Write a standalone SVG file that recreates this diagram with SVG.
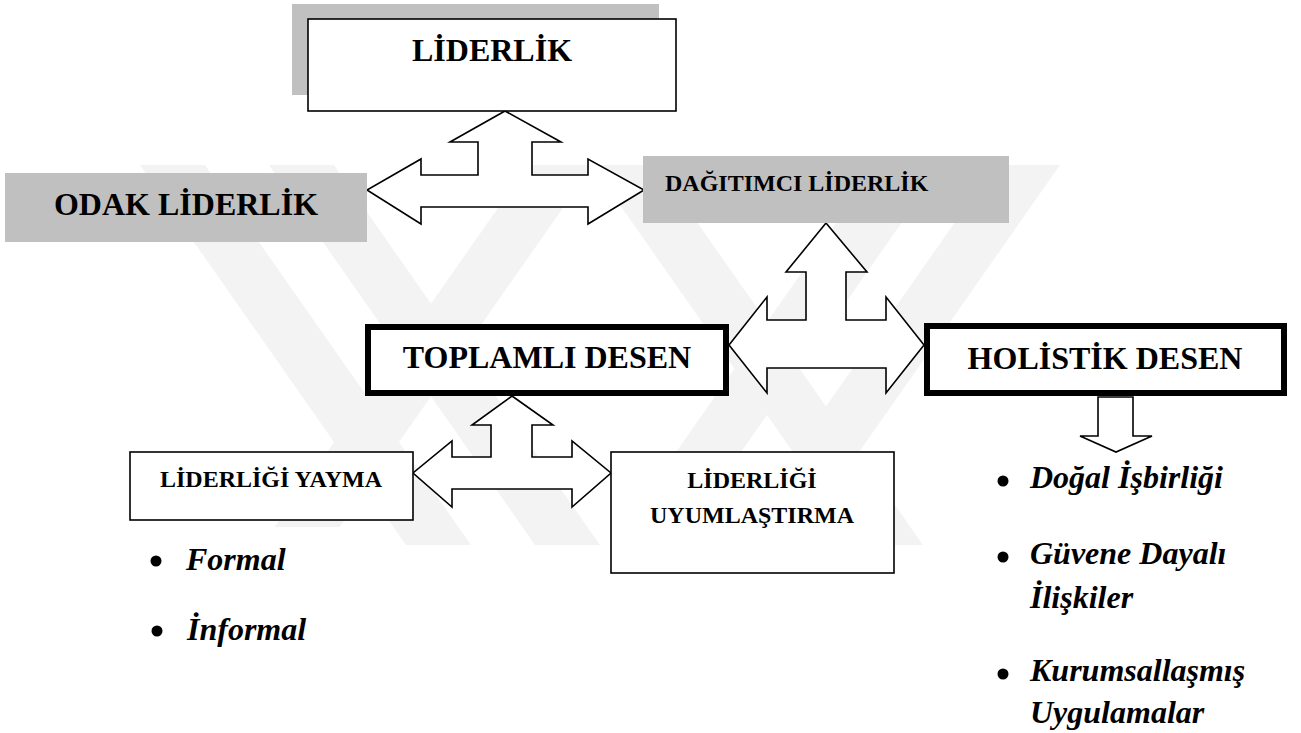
<svg xmlns="http://www.w3.org/2000/svg" width="1301" height="733" viewBox="0 0 1301 733">
<style>
.wm{fill:#f3f3f3}
.bx{fill:#ffffff;stroke:#000;stroke-width:1.6}
.thick{fill:#ffffff;stroke:#000;stroke-width:6}
.gray{fill:#c0c0c0}
.arr{fill:#ffffff;stroke:#000;stroke-width:1.6;stroke-linejoin:miter}
.t{font-family:"Liberation Serif","Times New Roman",serif;font-weight:bold;fill:#000}
.it{font-family:"Liberation Serif","Times New Roman",serif;font-weight:bold;font-style:italic;font-size:32px;fill:#000}
.dot{fill:#000}
</style>
<rect width="1301" height="733" fill="#ffffff"/>
<g id="watermark">
<polygon class="wm" points="140,165 205,165 471,545 406,545"/>
<polygon class="wm" points="269,165 334,165 600,545 535,545"/>
<polygon class="wm" points="528,165 593,165 327,545 262,545"/>
<polygon class="wm" points="592,165 657,165 923,545 858,545"/>
<polygon class="wm" points="877,165 942,165 676,545 611,545"/>
<polygon class="wm" points="995,165 1060,165 794,545 729,545"/>
<rect x="120" y="527" width="232" height="200" fill="#ffffff"/>
<rect x="974" y="446" width="327" height="287" fill="#ffffff"/>
</g>
<g id="connectors">
<polygon class="arr" points="505,111 561,142 532,142 532,175 588,175 588,159 644,190 588,224 588,207 421,207 421,224 367,190 421,159 421,175 478,175 478,142 450,142"/>
<polygon class="arr" points="826,223 867,272 846,272 846,320 886,320 886,297 924,345 886,393 886,368 767,368 767,393 729,345 767,297 767,320 806,320 806,272 786,272"/>
<polygon class="arr" points="512,396 553,425 532,425 532,457 572,457 572,441 611,473 572,507 572,489 452,489 452,507 413,473 452,441 452,457 491,457 491,425 472,425"/>
<polygon class="arr" points="1098,397 1133,397 1133,436 1152,436 1116,452 1080,436 1098,436"/>
</g>
<g id="node-liderlik">
<rect class="gray" x="292" y="4" width="367" height="91"/>
<rect class="bx" x="308" y="19" width="368" height="92"/>
<text class="t" x="492" y="61" font-size="32" text-anchor="middle">LİDERLİK</text>
</g>
<g id="node-odak">
<rect class="gray" x="5" y="173" width="362" height="69"/>
<text class="t" x="186" y="215" font-size="32" text-anchor="middle">ODAK LİDERLİK</text>
</g>
<g id="node-dagitimci">
<rect class="gray" x="643" y="156" width="366" height="67"/>
<text class="t" x="665" y="191" font-size="24">DAĞITIMCI LİDERLİK</text>
</g>
<g id="node-toplamli">
<rect class="thick" x="368" y="327" width="358" height="66"/>
<text class="t" x="547" y="368" font-size="32" text-anchor="middle">TOPLAMLI DESEN</text>
</g>
<g id="node-holistik">
<rect class="thick" x="927" y="326" width="357" height="67"/>
<text class="t" x="1105" y="369" font-size="32" text-anchor="middle">HOLİSTİK DESEN</text>
</g>
<g id="node-yayma">
<rect class="bx" x="130" y="452" width="283" height="68"/>
<text class="t" x="271" y="487" font-size="24" text-anchor="middle">LİDERLİĞİ YAYMA</text>
</g>
<g id="node-uyumlastirma">
<rect class="bx" x="611" y="452" width="283" height="121"/>
<text class="t" x="752" y="488" font-size="24" text-anchor="middle">LİDERLİĞİ</text>
<text class="t" x="752" y="523" font-size="24" text-anchor="middle">UYUMLAŞTIRMA</text>
</g>
<g id="list-left">
<circle class="dot" cx="156" cy="561" r="5.5"/>
<text class="it" x="186" y="570">Formal</text>
<circle class="dot" cx="157" cy="631" r="5.5"/>
<text class="it" x="187" y="640">İnformal</text>
</g>
<g id="list-right">
<circle class="dot" cx="1003" cy="481" r="5.5"/>
<text class="it" x="1030" y="488">Doğal İşbirliği</text>
<circle class="dot" cx="1003" cy="557" r="5.5"/>
<text class="it" x="1030" y="564">Güvene Dayalı</text>
<text class="it" x="1030" y="608">İlişkiler</text>
<circle class="dot" cx="1003" cy="674" r="5.5"/>
<text class="it" x="1030" y="681">Kurumsallaşmış</text>
<text class="it" x="1030" y="723">Uygulamalar</text>
</g>
</svg>
